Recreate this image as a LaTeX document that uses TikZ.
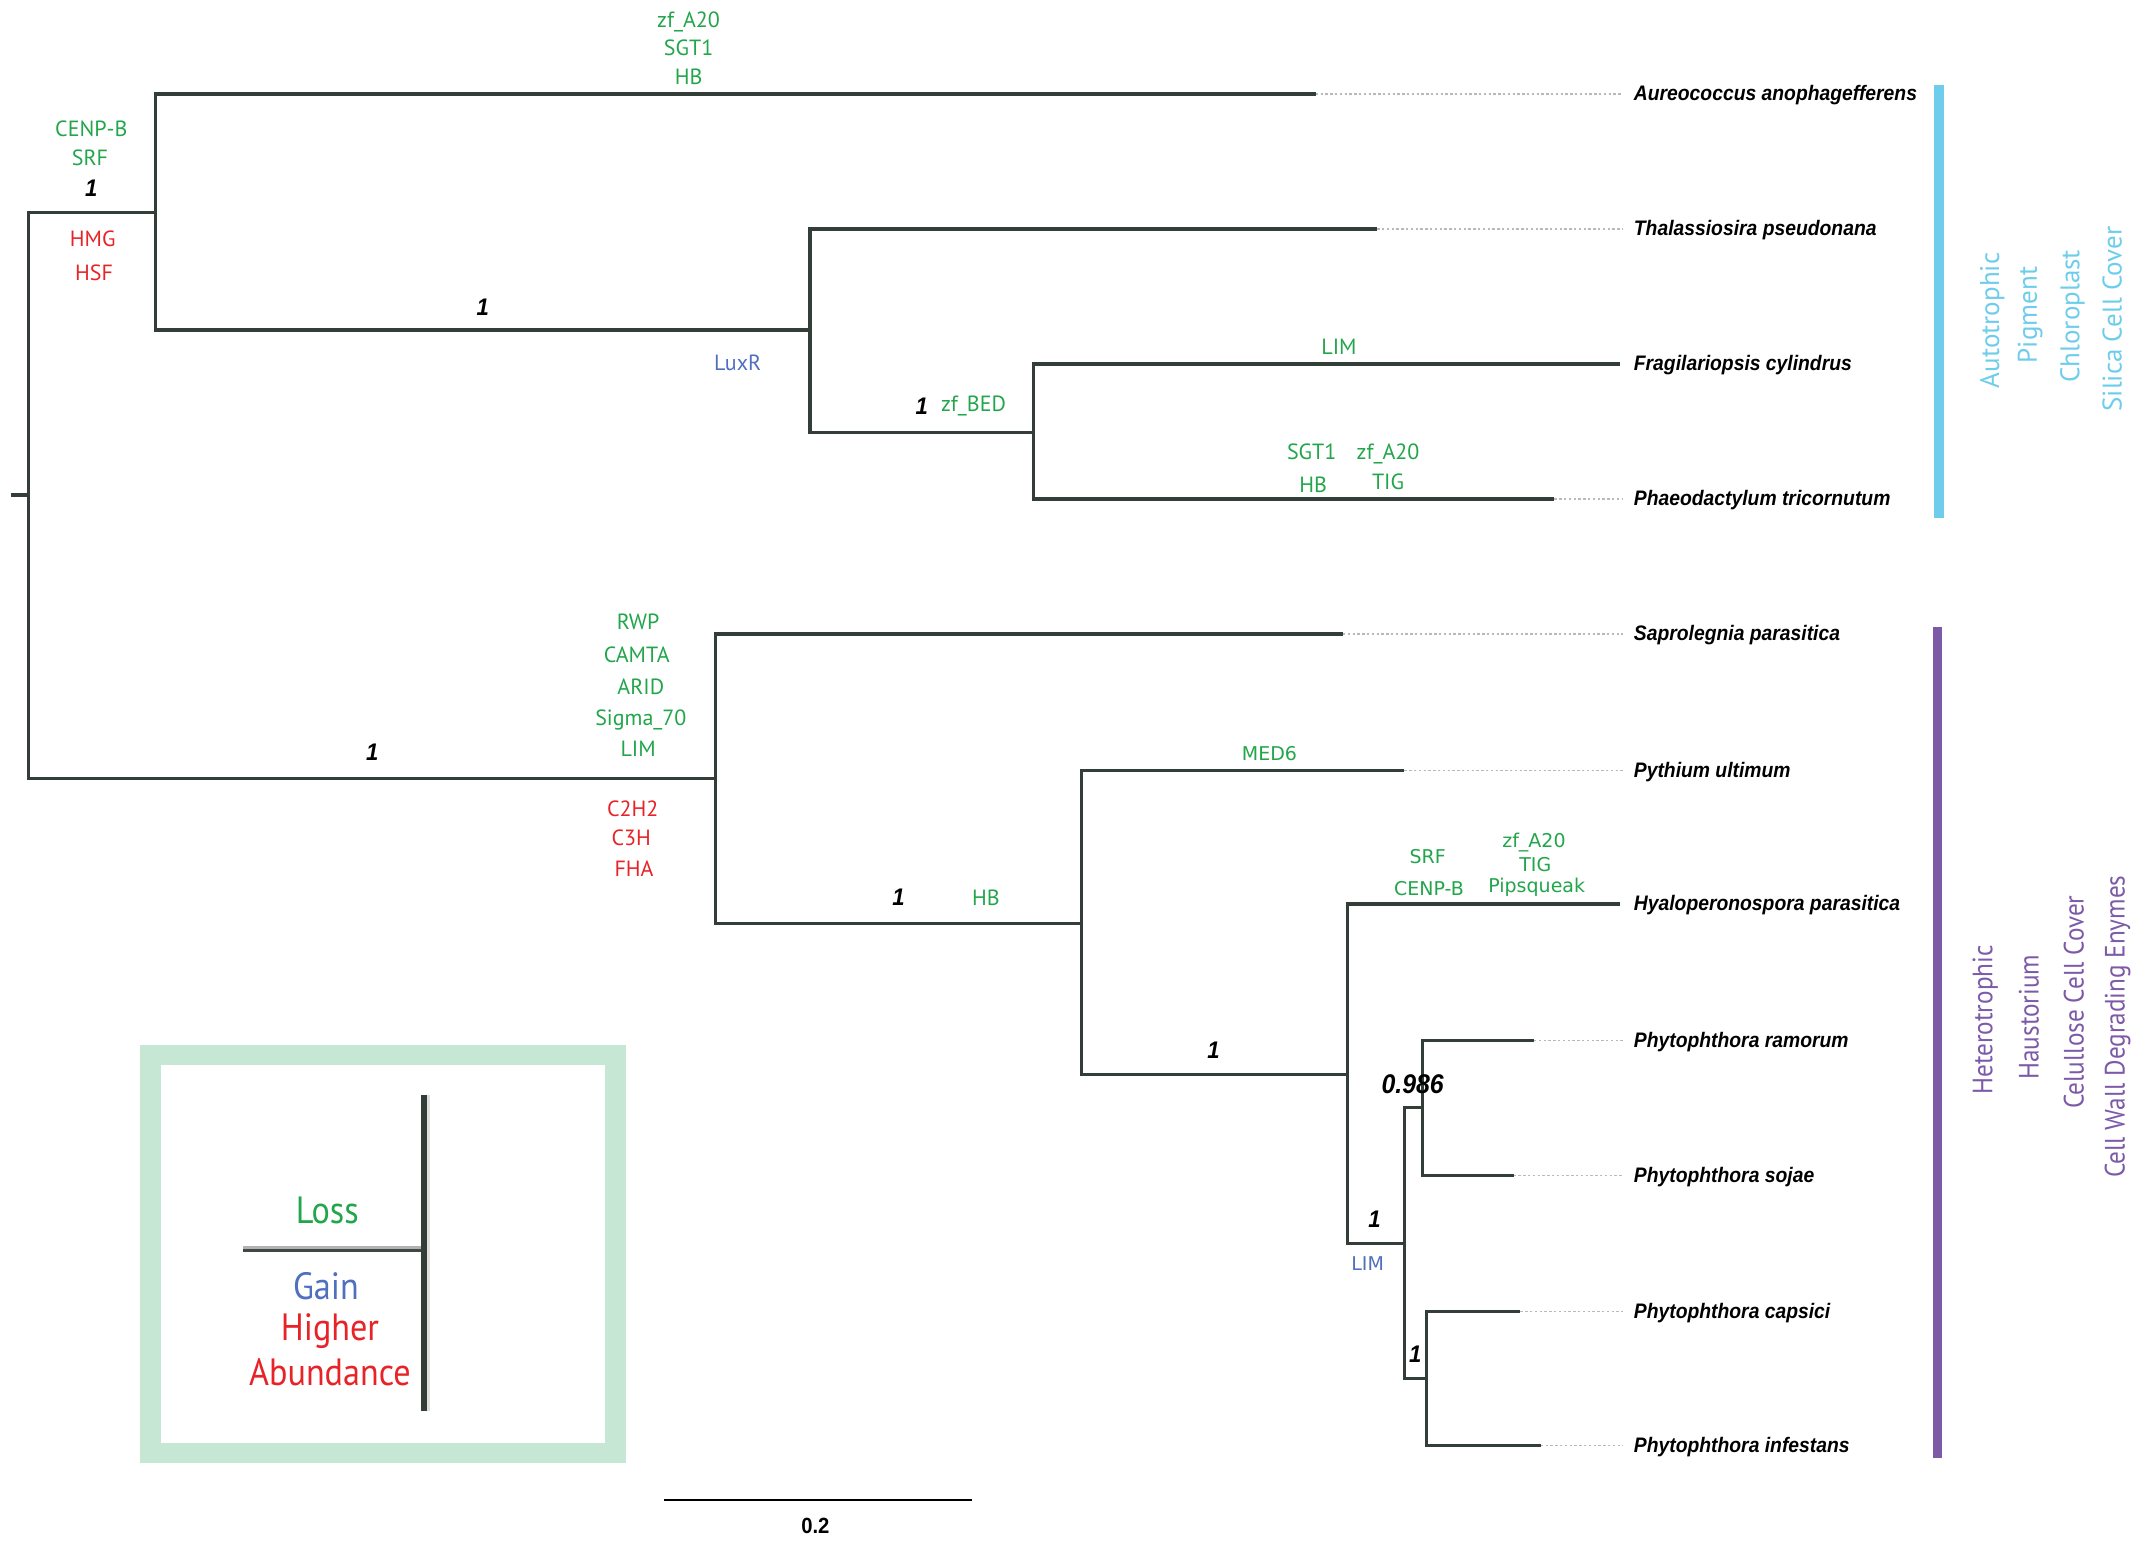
\documentclass[tikz,border=0pt]{standalone}
\usepackage{fontspec}
\setmainfont{PT Sans}
\newfontfamily\spfont[FakeStretch=0.92]{Liberation Sans}
\newfontfamily\vfont{DejaVu Sans}
\newfontfamily\condfont[FakeStretch=0.9]{PT Sans}
\definecolor{lgreen}{RGB}{34,165,75}
\definecolor{lred}{RGB}{232,35,40}
\definecolor{lblue}{RGB}{80,112,190}
\definecolor{lcyan}{RGB}{110,205,235}
\definecolor{lpurple}{RGB}{125,90,168}
\definecolor{branch}{RGB}{52,62,57}
\definecolor{legbg}{RGB}{198,231,212}
\begin{document}
\begin{tikzpicture}[x=0.68175pt,y=-0.68175pt,
  br/.style={draw=branch, line width=1.6pt, line join=miter},
  lead/.style={draw=gray!55, line width=0.7pt, dash pattern=on 1.2pt off 1.2pt},
  sp/.style={anchor=base west, inner sep=0pt, font=\spfont\bfseries\itshape\fontsize{10.5}{12}\selectfont},
  g/.style={text=lgreen, inner sep=0pt, yshift=-1.4pt, text height=0.72em, text depth=0.18em, font=\fontsize{11}{13}\selectfont},
  rd/.style={g, text=lred},
  bl/.style={g, text=lblue},
  gv/.style={text=lgreen, inner sep=0pt, yshift=-1pt, text height=0.72em, text depth=0.18em, font=\vfont\fontsize{9.5}{11}\selectfont},
  bv/.style={gv, text=lblue},
  bs/.style={inner sep=0pt, yshift=-0.7pt, font=\spfont\bfseries\itshape\fontsize{12}{14}\selectfont},
  vt/.style={rotate=90, inner sep=0pt, font=\fontsize{13.5}{16}\selectfont},
  vp/.style={rotate=90, inner sep=0pt, font=\condfont\fontsize{14}{16}\selectfont},
  lg/.style={inner sep=0pt, font=\condfont\fontsize{19}{22}\selectfont}
]
\useasboundingbox (0,0) rectangle (1568,1130);

% ---------- tree coordinates ----------
\coordinate (r0) at (8,363);
\coordinate (r) at (21,363);
\coordinate (nA) at (114,156);
\coordinate (nD) at (594,242);
\coordinate (nF) at (758,317);
\coordinate (nL) at (525,571);
\coordinate (nP) at (793,677);
\coordinate (nH) at (988,788);
\coordinate (nPh) at (1030,912);
\coordinate (nRS) at (1043,812);
\coordinate (nCI) at (1046,1011);
\coordinate (aurE) at (965,69);
\coordinate (thalE) at (1010,168);
\coordinate (fragE) at (1188,267);
\coordinate (phaeE) at (1140,366);
\coordinate (sapE) at (985,465);
\coordinate (pythE) at (1030,565);
\coordinate (hyalE) at (1188,663);
\coordinate (ramE) at (1125,763);
\coordinate (sojE) at (1110,862);
\coordinate (capE) at (1115,962);
\coordinate (infE) at (1130,1060);
\coordinate (aurT) at (1190,69);
\coordinate (thalT) at (1190,168);
\coordinate (phaeT) at (1190,366);
\coordinate (sapT) at (1190,465);
\coordinate (pythT) at (1190,565);
\coordinate (ramT) at (1190,763);
\coordinate (sojT) at (1190,862);
\coordinate (capT) at (1190,962);
\coordinate (infT) at (1190,1060);

% ---------- branches ----------
\draw[br] (r0) -- (r);
\draw[br] (r) |- (nA);
\draw[br] (r) |- (nL);
\draw[br] (nA) |- (aurE);
\draw[br] (nA) |- (nD);
\draw[br] (nD) |- (thalE);
\draw[br] (nD) |- (nF);
\draw[br] (nF) |- (fragE);
\draw[br] (nF) |- (phaeE);
\draw[br] (nL) |- (sapE);
\draw[br] (nL) |- (nP);
\draw[br] (nP) |- (pythE);
\draw[br] (nP) |- (nH);
\draw[br] (nH) |- (hyalE);
\draw[br] (nH) |- (nPh);
\draw[br] (nPh) |- (nRS);
\draw[br] (nRS) |- (ramE);
\draw[br] (nRS) |- (sojE);
\draw[br] (nPh) |- (nCI);
\draw[br] (nCI) |- (capE);
\draw[br] (nCI) |- (infE);

% ---------- leaders ----------
\draw[lead] (aurE) -- (aurT);
\draw[lead] (thalE) -- (thalT);
\draw[lead] (phaeE) -- (phaeT);
\draw[lead] (sapE) -- (sapT);
\draw[lead] (pythE) -- (pythT);
\draw[lead] (ramE) -- (ramT);
\draw[lead] (sojE) -- (sojT);
\draw[lead] (capE) -- (capT);
\draw[lead] (infE) -- (infT);

% ---------- species ----------
\node[sp] (aur) at (1198,74) {Aureococcus anophagefferens};
\node[sp] (thal) at (1198,173) {Thalassiosira pseudonana};
\node[sp] (frag) at (1198,272) {Fragilariopsis cylindrus};
\node[sp] (phae) at (1198,371) {Phaeodactylum tricornutum};
\node[sp] (sap) at (1198,470) {Saprolegnia parasitica};
\node[sp] (pyth) at (1198,570) {Pythium ultimum};
\node[sp] (hyal) at (1198,668) {Hyaloperonospora parasitica};
\node[sp] (ram) at (1198,768) {Phytophthora ramorum};
\node[sp] (soj) at (1198,867) {Phytophthora sojae};
\node[sp] (cap) at (1198,967) {Phytophthora capsici};
\node[sp] (inf) at (1198,1065) {Phytophthora infestans};

% ---------- group bars ----------
\draw[draw=lcyan, line width=4.8pt] (1422,62) coordinate (cb1) -- (1422,380) coordinate (cb2);
\draw[draw=lpurple, line width=4.8pt] (1421,460) coordinate (pb1) -- (1421,1069) coordinate (pb2);
\node[vt, text=lcyan] (t1) at (1461,235) {Autotrophic};
\node[vt, text=lcyan] (t2) at (1489,231) {Pigment};
\node[vt, text=lcyan] (t3) at (1520,232) {Chloroplast};
\node[vt, text=lcyan] (t4) at (1549,234) {Silica Cell Cover};
\node[vp, text=lpurple] (t5) at (1456,748) {Heterotrophic};
\node[vp, text=lpurple] (t6) at (1488,746) {Haustorium};
\node[vp, text=lpurple] (t7) at (1521,735) {Celullose Cell Cover};
\node[vp, text=lpurple] (t8) at (1553,753) {Cell Wall Degrading Enymes};

% ---------- branch labels ----------
\node[g] (a1) at (505,14) {zf\_A20};
\node[g] (a2) at (505,35) {SGT1};
\node[g] (a3) at (505,56) {HB};
\node[g] (b1) at (67,94) {CENP-B};
\node[g] (b2) at (66,115) {SRF};
\node[bs] (b3) at (67,137) {1};
\node[rd] (b4) at (68,175) {HMG};
\node[rd] (b5) at (69,200) {HSF};
\node[bs] (c1) at (354,224) {1};
\node[bl] (c2) at (541,266) {LuxR};
\node[bs] (c3) at (676,297) {1};
\node[g] (c4) at (714,296) {zf\_BED};
\node[g] (c5) at (982,254) {LIM};
\node[g] (d1) at (962,331) {SGT1};
\node[g] (d2) at (1018,331) {zf\_A20};
\node[g] (d3) at (963,355) {HB};
\node[g] (d4) at (1018,353) {TIG};
\node[g] (e1) at (468,456) {RWP};
\node[g] (e2) at (467,480) {CAMTA};
\node[g] (e3) at (470,503) {ARID};
\node[g] (e4) at (470,526) {Sigma\_70};
\node[g] (e5) at (468,549) {LIM};
\node[bs] (e6) at (273,551) {1};
\node[rd] (e7) at (464,593) {C2H2};
\node[rd] (e8) at (463,614) {C3H};
\node[rd] (e9) at (465,637) {FHA};
\node[bs] (f1) at (659,657) {1};
\node[g] (f2) at (723,658) {HB};
\node[gv] (f3) at (931,552) {MED6};
\node[gv] (f4) at (1047,628) {SRF};
\node[gv] (f5) at (1048,651) {CENP-B};
\node[gv] (f6) at (1125,616) {zf\_A20};
\node[gv] (f7) at (1126,634) {TIG};
\node[gv] (f8) at (1127,649) {Pipsqueak};
\node[bs] (h1) at (890,769) {1};
\node[bs, font=\spfont\bfseries\itshape\fontsize{13.5}{15}\selectfont] (h2) at (1036,794) {0.986};
\node[bs] (h3) at (1008,893) {1};
\node[bv] (h4) at (1003,926) {LIM};
\node[bs] (h5) at (1038,992) {1};

% ---------- legend ----------
\draw[draw=legbg, line width=10.2pt] (110.5,773.5) rectangle (451.5,1065.5);
\coordinate (lv1) at (311,803);
\coordinate (lv2) at (311,1035);
\coordinate (lh1) at (178,916);
\coordinate (lh2) at (311,916);
\draw[draw=gray!25, line width=1.6pt] ([xshift=2pt]lv1) -- ([xshift=2pt]lv2);
\draw[draw=gray!60, line width=1.2pt] ([yshift=0.7pt]lh1) -- ([yshift=0.7pt]lh2);
\draw[draw=branch!85!gray, line width=1.3pt] ([yshift=-0.6pt]lh1) -- ([yshift=-0.6pt]lh2);
\draw[draw=branch, line width=2.7pt] (lv1) -- (lv2);
\node[lg, text=lgreen] (lo) at (240,888) {Loss};
\node[lg, text=lblue] (ga) at (239,943) {Gain};
\node[lg, text=lred] (hi) at (242,976) {Higher};
\node[lg, text=lred] (ab) at (242,1006) {Abundance};

% ---------- scale bar ----------
\coordinate (s1) at (487,1100);
\coordinate (s2) at (713,1100);
\draw[draw=black, line width=1.3pt] (s1) -- (s2);
\node[inner sep=0pt, font=\spfont\bfseries\fontsize{11}{13}\selectfont] (sl) at (598,1119) {0.2};
\end{tikzpicture}
\end{document}
